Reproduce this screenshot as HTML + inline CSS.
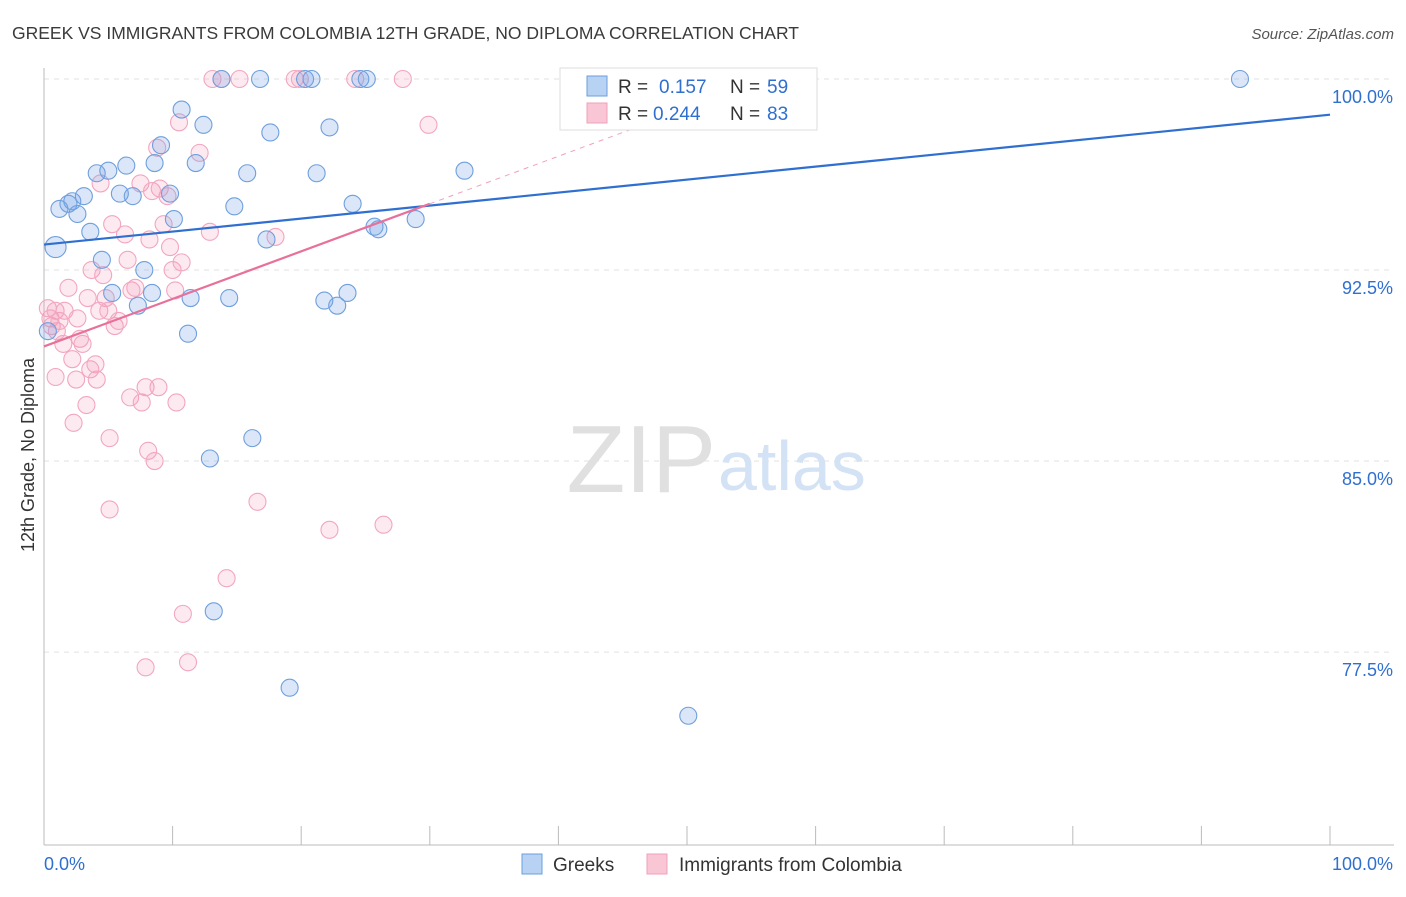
<!DOCTYPE html>
<html><head><meta charset="utf-8"><style>
body{margin:0;background:#fff;font-family:"Liberation Sans",sans-serif;}
svg text{font-family:"Liberation Sans",sans-serif;}
</style></head><body>
<svg width="1406" height="892" viewBox="0 0 1406 892">
<text x="12" y="39" font-size="17.5" fill="#3a3a3a">GREEK VS IMMIGRANTS FROM COLOMBIA 12TH GRADE, NO DIPLOMA CORRELATION CHART</text>
<text x="1394" y="39" font-size="15" fill="#555" font-style="italic" text-anchor="end">Source: ZipAtlas.com</text>
<text transform="translate(34,455) rotate(-90)" font-size="18" fill="#333" text-anchor="middle">12th Grade, No Diploma</text>
<g id="grid"></g>
<text x="716" y="492" font-size="96" fill="#e0e0e0" font-family="Liberation Serif" text-anchor="end">ZIP</text>
<text x="718" y="490" font-size="70" fill="#d3e2f4">atlas</text>
<g id="pts"></g>
<g id="lines"></g>
<g>
<rect x="560" y="68" width="257" height="62" fill="#fff" stroke="#ddd"/>
<rect x="587" y="76" width="20" height="20" fill="#b8d2f4" stroke="#6a9fdc"/>
<text x="618" y="93" font-size="19" fill="#333">R =</text>
<text x="659" y="93" font-size="19" fill="#2f6fd0">0.157</text>
<text x="730" y="93" font-size="19" fill="#333">N =</text>
<text x="767" y="93" font-size="19" fill="#2f6fd0">59</text>
<rect x="587" y="103" width="20" height="20" fill="#f9c6d6" stroke="#f0a0bb"/>
<text x="618" y="120" font-size="19" fill="#333">R =</text>
<text x="653" y="120" font-size="19" fill="#2f6fd0">0.244</text>
<text x="730" y="120" font-size="19" fill="#333">N =</text>
<text x="767" y="120" font-size="19" fill="#2f6fd0">83</text>
</g>
<g>
<rect x="522" y="854" width="20" height="20" fill="#b8d2f4" stroke="#6a9fdc"/>
<text x="553" y="871" font-size="19" fill="#333">Greeks</text>
<rect x="647" y="854" width="20" height="20" fill="#f9c6d6" stroke="#f0a0bb"/>
<text x="679" y="871" font-size="19" fill="#333">Immigrants from Colombia</text>
</g>
<text x="44" y="870" font-size="18" fill="#2f6fd0">0.0%</text>
<text x="1393" y="870" font-size="18" fill="#2f6fd0" text-anchor="end">100.0%</text>
</svg>
<script>
const yTicks=[100,92.5,85,77.5];
const yTickLabels=["100.0%","92.5%","85.0%","77.5%"];
const xTicks=[0,10,20,30,40,50,60,70,80,90,100];
const greekX=[0.9,1.2,1.9,2.2,2.6,3.1,3.6,4.1,4.5,5.0,5.3,5.9,6.4,6.9,7.3,7.8,8.4,8.6,9.1,9.8,10.1,10.7,11.2,11.4,11.8,12.4,12.9,13.2,13.8,14.4,14.8,15.8,16.2,16.8,17.3,17.6,19.1,20.3,20.8,21.2,21.8,22.2,22.8,23.6,24.0,24.6,25.1,25.7,26.0,28.9,32.7,40.9,50.1,51.8,56.3,93.0,0.3];
const greekY=[93.4,94.9,95.1,95.2,94.7,95.4,94.0,96.3,92.9,96.4,91.6,95.5,96.6,95.4,91.1,92.5,91.6,96.7,97.4,95.5,94.5,98.8,90.0,91.4,96.7,98.2,85.1,79.1,100,91.4,95.0,96.3,85.9,100,93.7,97.9,76.1,100,100,96.3,91.3,98.1,91.1,91.6,95.1,100,100,94.2,94.1,94.5,96.4,100,75.0,100,100,100,90.1];
const colX=[0.3,0.5,0.6,0.9,1.0,1.2,1.5,1.6,1.9,0.9,2.2,2.3,2.5,2.6,2.8,3.0,3.3,3.4,3.6,3.7,4.0,4.1,4.3,4.4,4.6,4.8,5.0,5.1,5.3,5.5,5.8,6.3,6.5,6.7,6.8,7.1,7.5,7.6,7.9,8.1,8.2,8.4,8.6,8.8,8.9,9.0,9.3,9.6,9.8,10.0,10.2,10.3,10.5,10.7,10.8,11.2,12.1,12.9,13.1,13.8,14.2,15.2,16.6,18.0,19.5,19.9,22.2,24.2,26.4,27.9,29.9,5.1,7.9];
const colY=[91.0,90.6,90.3,90.9,90.1,90.5,89.6,90.9,91.8,88.3,89.0,86.5,88.2,90.6,89.8,89.6,87.2,91.4,88.6,92.5,88.8,88.2,90.9,95.9,92.3,91.4,90.9,85.9,94.3,90.3,90.5,93.9,92.9,87.5,91.7,91.8,95.9,87.3,87.9,85.4,93.7,95.6,85.0,97.3,87.9,95.7,94.3,95.4,93.4,92.5,91.7,87.3,98.3,92.8,79.0,77.1,97.1,94.0,100,100,80.4,100,83.4,93.8,100,100,82.3,100,82.5,100,98.2,83.1,76.9];
const greekTrend=[93.5,98.6]; // value at x=0 and x=100
const colTrend=[89.5,95.1];   // value at x=0 and x=30
const NS="http://www.w3.org/2000/svg";
const X0=44,X1=1330,YTOP=79,PX_PER=25.47;
function sx(v){return X0+(X1-X0)*v/100;}
function sy(v){return YTOP+(100-v)*PX_PER;}
function mk(t,a,p){const e=document.createElementNS(NS,t);for(const k in a)e.setAttribute(k,a[k]);p.appendChild(e);return e;}
const grid=document.getElementById('grid');
yTicks.forEach((t,i)=>{
 const l=mk('line',{x1:X0,x2:1394,y1:sy(t),y2:sy(t),stroke:'#e2e2e2','stroke-dasharray':'5,5'},grid);
 
 
 const tx=mk('text',{x:1393,y:sy(t)+24,'font-size':18,fill:'#2f6fd0','text-anchor':'end'},grid);
 tx.textContent=yTickLabels[i];
 
 
});
const ax=mk('line',{x1:X0,x2:1394,y1:845,y2:845,stroke:'#bbb'},grid);


const ay=mk('line',{x1:X0,x2:X0,y1:68,y2:845,stroke:'#bbb'},grid);


xTicks.forEach(t=>{
 const l=mk('line',{x1:sx(t),x2:sx(t),y1:826,y2:845,stroke:'#bbb'},grid);
 
 
});
const pts=document.getElementById('pts');
colX.forEach((x,i)=>{
 const c=mk('circle',{cx:sx(x),cy:sy(colY[i]),r:8.5,fill:'rgba(244,150,180,0.2)',stroke:'#f2a6c0','stroke-width':1.1},pts);
 
 
});
greekX.forEach((x,i)=>{
 const c=mk('circle',{cx:sx(x),cy:sy(greekY[i]),r:i==0?10.5:8.5,fill:'rgba(110,160,230,0.25)',stroke:'#6f9fdc','stroke-width':1.1},pts);
 
 
});
const lg=document.getElementById('lines');
const bl=mk('line',{x1:sx(0),y1:sy(greekTrend[0]),x2:sx(100),y2:sy(greekTrend[1]),stroke:'#2f6fd0','stroke-width':2.2},lg);


const slope=(colTrend[1]-colTrend[0])/30;
const pl=mk('line',{x1:sx(0),y1:sy(colTrend[0]),x2:sx(30),y2:sy(colTrend[1]),stroke:'#e8709a','stroke-width':2.2},lg);


const pd=mk('line',{x1:sx(30),y1:sy(colTrend[1]),x2:sx(46),y2:sy(colTrend[0]+slope*46),stroke:'#f0a0bb','stroke-width':1,'stroke-dasharray':'5,5'},lg);


</script>
</body></html>
